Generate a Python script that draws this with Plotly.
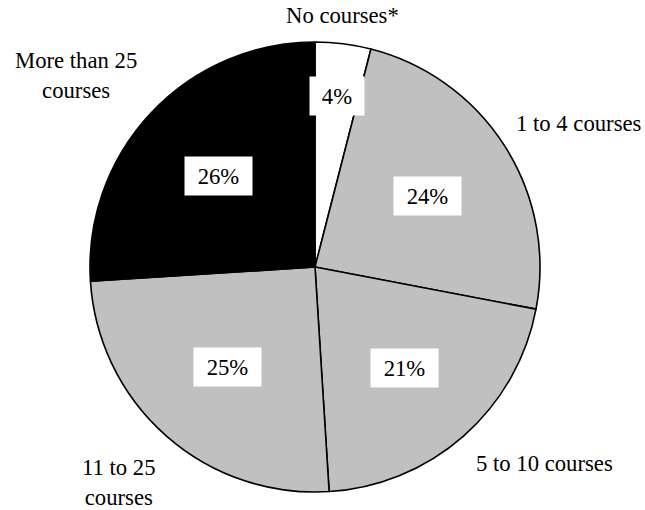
import math
import plotly.graph_objects as go

categories = ["No courses*", "1 to 4 courses", "5 to 10 courses", "11 to 25 courses", "More than 25 courses"]
values = [4, 24, 21, 25, 26]
pct_labels = ["4%", "24%", "21%", "25%", "26%"]
outer_labels = ["No courses*", "1 to 4 courses", "5 to 10 courses", "11 to 25<br>courses", "More than 25<br>courses"]

# style
colors = ["#ffffff", "#c0c0c0", "#c0c0c0", "#c0c0c0", "#000000"]
pct_radius = [0.766, 0.59, 0.6, 0.59, 0.59]
outer_pos = [(0.56, 1.058), (1.087, 0.82), (1.01, 0.064), (0.064, 0.022), (-0.031, 0.925)]
FONT = "Liberation Serif, Times New Roman, serif"
FS = 22.7

fig = go.Figure(go.Pie(
    labels=categories, values=values, sort=False, direction="clockwise",
    rotation=0, textinfo="none", hoverinfo="label+percent",
    marker=dict(colors=colors, line=dict(color="black", width=1.6)),
    showlegend=False,
))

annotations = []
total = sum(values)
cum = 0
for v, t, r in zip(values, pct_labels, pct_radius):
    mid = (cum + v / 2) / total * 2 * math.pi
    cum += v
    annotations.append(dict(
        x=0.5 + 0.5 * r * math.sin(mid), y=0.5 + 0.5 * r * math.cos(mid),
        xref="paper", yref="paper", text=t, showarrow=False,
        xanchor="center", yanchor="middle",
        font=dict(family=FONT, size=FS, color="black"),
        bgcolor="white", borderpad=4, width=20 + 13 * len(t), height=30,
    ))
for t, (x, y) in zip(outer_labels, outer_pos):
    annotations.append(dict(
        x=x, y=y, xref="paper", yref="paper", text=t, showarrow=False,
        xanchor="center", yanchor="middle",
        font=dict(family=FONT, size=FS, color="black"),
    ))

fig.update_layout(
    width=645, height=510,
    margin=dict(l=90, r=105, t=42, b=18),
    paper_bgcolor="white", plot_bgcolor="white",
    annotations=annotations,
)
fig.write_html(
    "out.html",
    config={"displayModeBar": False},
    post_script="document.body.style.margin='0';document.body.style.overflow='hidden';",
)
